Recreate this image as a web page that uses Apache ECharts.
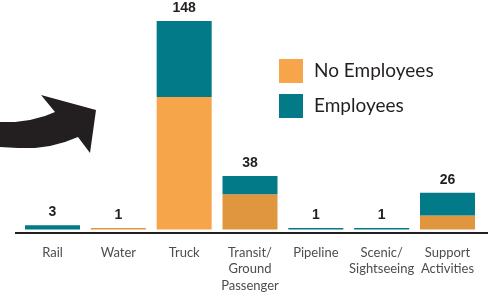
<!DOCTYPE html>
<html>
<head>
<meta charset="utf-8">
<script src="https://cdn.jsdelivr.net/npm/echarts@6/dist/echarts.min.js"></script>
<style>
  html, body { margin: 0; padding: 0; background: #fff; }
  #chart { width: 488px; height: 294px; }
</style>
</head>
<body>
<div id="chart"></div>
<script>
// 数据
var categories = ['Rail', 'Water', 'Truck', 'Transit/\nGround\nPassenger', 'Pipeline', 'Scenic/\nSightseeing', 'Support\nActivities'];
var noEmployees = [0, 1, 94, 25, 0, 0, 10];
var employees = [3, 0, 54, 13, 1, 1, 16];
var totals = noEmployees.map(function (v, i) { return v + employees[i]; });

var ORANGE = '#f7a54b';
var ORANGE_DARK = '#e0953f';
var TEAL = '#037a87';

var chart = echarts.init(document.getElementById('chart'));

chart.setOption({
  animation: false,
  grid: { left: 19.6, right: 7.6, top: 21, bottom: 60 },
  legend: {
    orient: 'vertical',
    left: 279,
    top: 59,
    padding: 0,
    itemWidth: 24,
    itemHeight: 24,
    itemGap: 11,
    icon: 'rect',
    data: ['No Employees', 'Employees'],
    textStyle: { fontFamily: 'Lato', fontSize: 19, color: '#231f20', padding: [0, 0, 0, 6] }
  },
  xAxis: {
    type: 'category',
    data: categories,
    axisLine: { show: false },
    axisTick: { show: false },
    axisLabel: {
      interval: 0,
      margin: 15,
      fontFamily: 'Lato',
      fontSize: 13,
      lineHeight: 16.5,
      color: '#4d4d4f'
    }
  },
  yAxis: { type: 'value', min: 0, max: 148, show: false, splitLine: { show: false } },
  graphic: [
    // 底部轴线
    { type: 'rect', z: 1, shape: { x: 15, y: 232, width: 473, height: 2 }, style: { fill: '#231f20' } },
    // 左侧箭头
    {
      type: 'polygon', z: 1,
      shape: {
        points: [[0, 122], [15, 122], [30, 120], [45, 116], [55, 112], [41, 95], [96, 110], [90, 153],
          [78, 137], [65, 142], [50, 146], [35, 148], [18, 148], [0, 147]]
      },
      style: { fill: '#231f20' }
    }
  ],
  series: [
    {
      name: 'No Employees',
      type: 'bar',
      stack: 'total',
      barWidth: 55,
      z: 2,
      itemStyle: { color: ORANGE },
      data: noEmployees.map(function (v, i) {
        return categories[i] === 'Truck' ? v : { value: v, itemStyle: { color: ORANGE_DARK } };
      })
    },
    {
      name: 'Employees',
      type: 'bar',
      stack: 'total',
      barWidth: 55,
      z: 2,
      itemStyle: { color: TEAL },
      label: {
        show: true,
        position: 'top',
        distance: 6,
        fontFamily: 'Liberation Sans',
        fontWeight: 'bold',
        fontSize: 14,
        color: '#231f20',
        formatter: function (p) { return totals[p.dataIndex]; }
      },
      data: employees
    }
  ]
});
</script>
</body>
</html>
